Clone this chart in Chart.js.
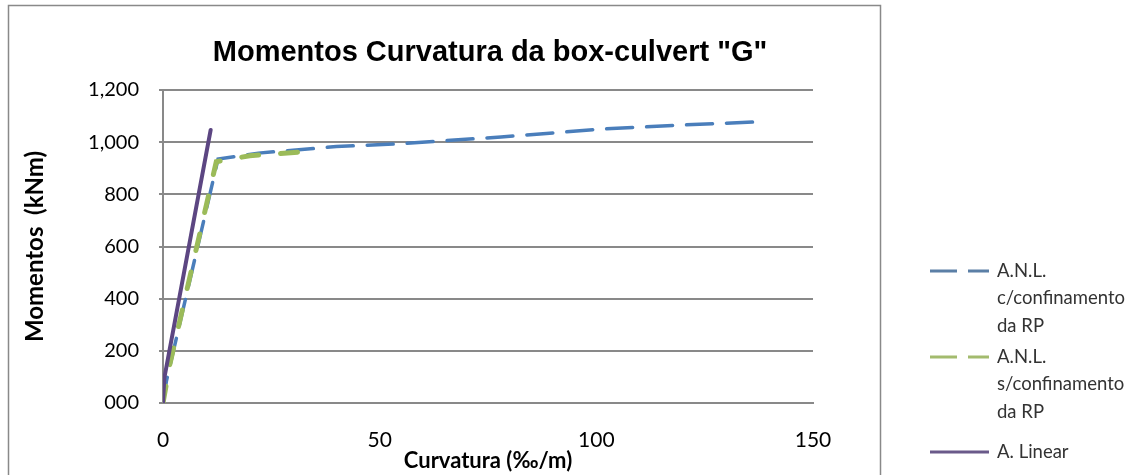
<!DOCTYPE html>
<html>
<head>
<meta charset="utf-8">
<script src="https://cdn.jsdelivr.net/npm/chart.js@4/dist/chart.umd.min.js"></script>
<style>
  html, body { margin: 0; padding: 0; background: #fff; }
  #wrap { width: 1137px; height: 475px; }
</style>
</head>
<body>
<div id="wrap"><canvas id="graph"></canvas></div>
<script>
// curvatura (‰/m) / momento (kNm) for each analysis
const curvConf = [0, 0.8, 12.7, 22, 30, 40, 55, 78, 101, 120, 139];
const momConf = [0, 85, 935, 958, 969, 983, 994, 1020, 1050, 1066, 1079];

const curvSemConf = [0, 1.6, 12.3, 20, 33];
const momSemConf = [0, 150, 925, 948, 964];

const curvLinear = [0, 0.3, 11];
const momLinear = [0, 95, 1047];

const yTickLabels = ['000', '200', '400', '600', '800', '1,000', '1,200'];
const xTicks = [0, 50, 100, 150];

const seriesNames = [
  ['A.N.L.', 'c/confinamento', 'da RP'],
  ['A.N.L.', 's/confinamento', 'da RP'],
  ['A. Linear']
];
const chartTitle = 'Momentos Curvatura da box-culvert "G"';

const blue = '#4a7ebb';
const green = '#9bbb59';
const purple = '#5c4682';
const gridGray = '#898989';
const bodyFont = 'Lato, "Open Sans", sans-serif';

const toPoints = (xs, ys) => xs.map((x, i) => ({ x: x, y: ys[i] }));

// frame, title and the multi-line legend on the right
const decorations = {
  id: 'decorations',
  beforeDraw(chart) {
    const ctx = chart.ctx;
    ctx.save();
    ctx.strokeStyle = gridGray;
    ctx.lineWidth = 1.5;
    ctx.strokeRect(8.5, 5.5, 872, 480);
    ctx.restore();
  },
  afterDraw(chart) {
    const ctx = chart.ctx;
    ctx.save();
    ctx.fillStyle = '#000';
    ctx.font = 'bold 29px "Liberation Sans", Arial, sans-serif';
    ctx.textAlign = 'center';
    ctx.textBaseline = 'middle';
    ctx.fillText(chartTitle, 490, 53);

    const styles = [
      { color: '#5b7fa6', dash: [27, 11] },
      { color: '#a3bb6e', dash: [27, 11] },
      { color: '#6a5a8a', dash: [] }
    ];
    const tops = [271, 357, 452];
    ctx.font = '18.5px ' + bodyFont;
    ctx.textAlign = 'left';
    seriesNames.forEach((lines, i) => {
      const y = tops[i];
      ctx.strokeStyle = styles[i].color;
      ctx.lineWidth = 3;
      ctx.setLineDash(styles[i].dash);
      ctx.beginPath();
      ctx.moveTo(930, y);
      ctx.lineTo(989, y);
      ctx.stroke();
      ctx.setLineDash([]);
      ctx.fillStyle = '#333';
      lines.forEach((t, j) => ctx.fillText(t, 997, y + j * 27.5));
    });
    ctx.restore();
  }
};

new Chart(document.getElementById('graph'), {
  type: 'scatter',
  data: {
    datasets: [
      {
        label: seriesNames[0].join(' '),
        data: toPoints(curvConf, momConf),
        showLine: true,
        borderColor: blue,
        borderWidth: 3.5,
        borderDash: [26, 14],
        borderCapStyle: 'round',
        pointRadius: 0,
        order: 2
      },
      {
        label: seriesNames[1].join(' '),
        data: toPoints(curvSemConf, momSemConf),
        showLine: true,
        borderColor: green,
        borderWidth: 5,
        borderDash: [17, 22],
        borderCapStyle: 'round',
        pointRadius: 0,
        order: 1
      },
      {
        label: seriesNames[2].join(' '),
        data: toPoints(curvLinear, momLinear),
        showLine: true,
        borderColor: purple,
        borderWidth: 4,
        borderCapStyle: 'round',
        pointRadius: 0,
        order: 0
      }
    ]
  },
  options: {
    responsive: true,
    maintainAspectRatio: false,
    animation: false,
    layout: {
      padding: { top: 90, right: 324, left: 0, bottom: 0 }
    },
    plugins: {
      legend: { display: false },
      tooltip: { enabled: false }
    },
    scales: {
      x: {
        type: 'linear',
        min: 0,
        max: 150,
        afterFit: scale => { scale.height = 72; },
        afterBuildTicks: scale => { scale.ticks = xTicks.map(v => ({ value: v })); },
        grid: { display: false, drawTicks: false },
        border: { display: true, color: gridGray, width: 2 },
        ticks: {
          color: '#000',
          font: { family: bodyFont, size: 21 },
          padding: 25,
          maxRotation: 0
        },
        title: {
          display: true,
          text: 'Curvatura (‰/m)',
          color: '#000',
          font: { family: bodyFont, size: 22, weight: 'bold' },
          padding: { top: 0, bottom: 1 }
        }
      },
      y: {
        min: 0,
        max: 1200,
        afterFit: scale => { scale.width = 163; },
        grid: {
          color: gridGray,
          lineWidth: 2,
          drawTicks: true,
          tickLength: 4
        },
        border: { display: true, color: gridGray, width: 2 },
        ticks: {
          stepSize: 200,
          color: '#000',
          font: { family: bodyFont, size: 20 },
          padding: 20,
          callback: (value, index) => yTickLabels[index]
        },
        title: {
          display: true,
          text: 'Momentos  (kNm)',
          color: '#000',
          font: { family: bodyFont, size: 24, weight: 'bold' },
          padding: { top: 21, bottom: 0 }
        }
      }
    }
  },
  plugins: [decorations]
});
</script>
</body>
</html>
